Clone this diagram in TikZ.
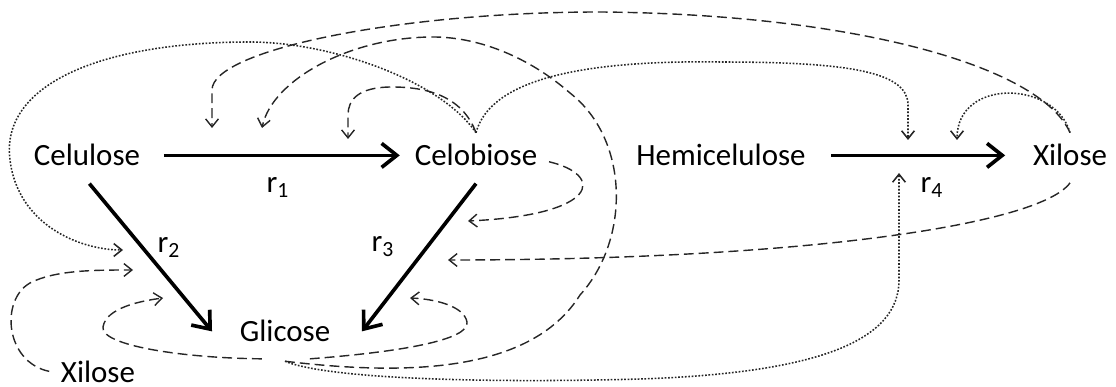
\documentclass[tikz,border=0pt]{standalone}
\usepackage{fontspec}
\setmainfont{Carlito}
\usetikzlibrary{arrows.meta}

\begin{document}
\begin{tikzpicture}[x=0.125mm,y=-0.125mm,
  species/.style={font=\fontsize{11}{13}\selectfont,inner sep=4pt,anchor=base},
  rlabel/.style={font=\fontsize{11}{13}\selectfont,inner sep=0pt,anchor=base west},
  rxn/.style={line width=1.3pt,-{Straight Barb[length=1.9mm,width=3mm]}},
  inhib/.style={line width=0.5pt,black!85,dash pattern=on 3.5pt off 1.8pt,-{Straight Barb[length=1mm,width=1.6mm]}},
  inhibdot/.style={line width=0.55pt,black!85,dash pattern=on 0.6pt off 0.6pt,-{Straight Barb[length=1mm,width=1.6mm]}}]
  \useasboundingbox (0,0) rectangle (1116,387);

  \node[species] (celul) at (87,166) {Celulose};
  \node[species] (celob) at (476,166) {Celobiose};
  \node[species] (hemi) at (721,166) {Hemicelulose};
  \node[species] (xilR) at (1070,166) {Xilose};
  \node[species] (gluc) at (285,342) {Glicose};
  \node[species] (xilB) at (98,382) {Xilose};

  \node[rlabel] (r1) at (266,193) {r\textsubscript{1}};
  \node[rlabel] (r2) at (157,253) {r\textsubscript{2}};
  \node[rlabel] (r3) at (371,252) {r\textsubscript{3}};
  \node[rlabel] (r4) at (920,193) {r\textsubscript{4}};

  \draw[rxn] ([xshift=1.5mm]celul.east) -- ([xshift=-0.4mm]celob.west);
  \draw[rxn] ([xshift=0.3mm,yshift=-0.7mm]celul.south) -- ([xshift=-2mm]gluc.west);
  \draw[rxn] ([yshift=-0.7mm]celob.south) -- ([xshift=2.5mm]gluc.east);
  \draw[rxn] ([xshift=1.75mm]hemi.east) -- ([xshift=-2mm]xilR.west);

  % points where the inhibitions meet the reactions
  \foreach \n/\px/\py in {r1x/212/128, r1g/262/128, r1c/348/139,
      r2c/123/250, r2x/133/270, r2g/163/298,
      r3c/468/221, r3x/448/260, r3g/410/298,
      r4c/908/140, r4x/957/140, r4g/899/173}
    \coordinate (\n) at (\px,\py);

  % r1
  \draw[inhib] (xilR.north) .. controls (1040,65) and (850,14) .. (600,12)
    .. controls (400,12) and (212,50) .. (212,90) -- (r1x);
  \draw[inhib] ([yshift=-0.9mm]gluc.south) .. controls (400,375) and (530,375) .. (580,295)
    .. controls (630,240) and (630,140) .. (570,93)
    .. controls (530,58) and (480,37) .. (433,37)
    .. controls (350,37) and (272,80) .. (r1g);
  \draw[inhib] (celob.north) .. controls (462,95) and (425,87) .. (392,87)
    .. controls (358,87) and (348,100) .. (348,115) -- (r1c);
  % r2
  \draw[inhibdot] (celob.north) .. controls (440,80) and (330,42) .. (250,42)
    .. controls (100,42) and (0,85) .. (10,160)
    .. controls (18,225) and (80,250) .. (r2c);
  \draw[inhib] (xilB.west) .. controls (5,362) and (0,300) .. (30,283)
    .. controls (55,270) and (95,270) .. (r2x);
  \draw[inhib] ([xshift=-2.9mm,yshift=-0.6mm]gluc.south) .. controls (180,358) and (100,345) .. (103,327)
    .. controls (106,308) and (140,301) .. (r2g);
  % r3
  \draw[inhib] (celob.-5) .. controls (605,175) and (600,215) .. (r3c);
  \draw[inhib] ([yshift=-0.6mm]xilR.south) .. controls (1040,225) and (800,260) .. (r3x);
  \draw[inhib] ([xshift=3.1mm,yshift=-0.6mm]gluc.south) .. controls (400,352) and (470,340) .. (467,322)
    .. controls (464,306) and (435,299) .. (r3g);
  % r4
  \draw[inhibdot] (celob.north) .. controls (490,80) and (580,60) .. (720,62)
    .. controls (850,62) and (908,72) .. (908,105) -- (r4c);
  \draw[inhibdot] (xilR.north) .. controls (1055,80) and (957,78) .. (r4x);
  \draw[inhibdot] ([yshift=-0.9mm]gluc.south) .. controls (330,380) and (500,383) .. (640,379)
    .. controls (820,373) and (899,340) .. (899,280) -- (r4g);
\end{tikzpicture}
\end{document}
